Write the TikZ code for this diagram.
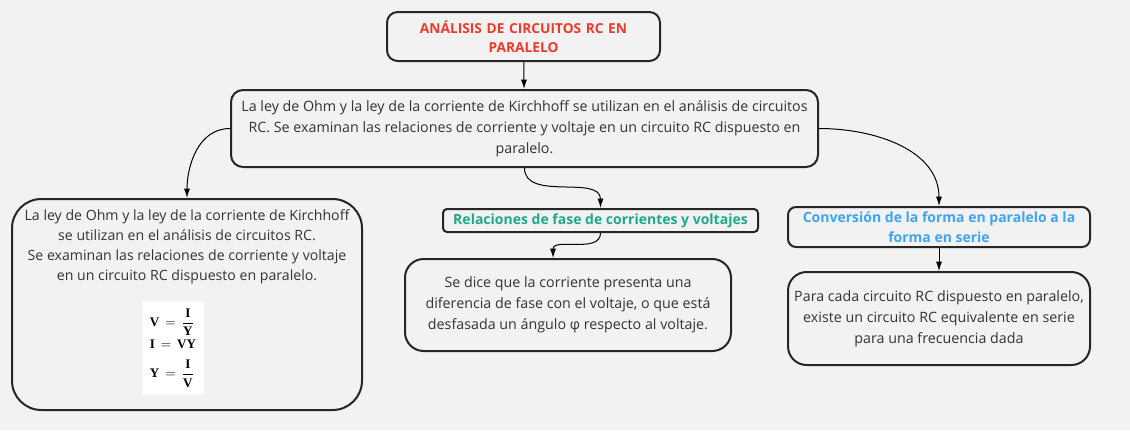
\documentclass[tikz,border=0pt]{standalone}
\usepackage{amsmath}
\usepackage{fontspec}
\setmainfont{Open Sans}
\setmathrm{Liberation Serif}
\usetikzlibrary{arrows.meta}
\definecolor{bgcol}{HTML}{F2F2F2}
\definecolor{txtcol}{HTML}{333333}
\definecolor{redcol}{HTML}{F0392B}
\definecolor{greencol}{HTML}{1EAA88}
\definecolor{bluecol}{HTML}{3FA4F4}
\begin{document}
\begin{tikzpicture}[x=0.75pt,y=-0.75pt,
  box/.style={draw=black!85,line width=1.5pt,fill=bgcol,align=center,
    text=txtcol,font=\fontsize{10.7}{15.75}\selectfont,inner sep=0pt},
  head/.style={box,font=\bfseries\fontsize{10.5}{15}\selectfont},
  link/.style={-{Latex[length=7pt,width=4.5pt]},line width=0.75pt,black}]
\fill[bgcol] (0,0) rectangle (1130,430);
\useasboundingbox (0,0) rectangle (1130,430);
% title
\node[head,text=redcol,rounded corners=8pt,minimum width=273*0.75pt,minimum height=49*0.75pt,text width=200pt,
  font=\bfseries\fontsize{10.3}{14}\selectfont]
  (title) at (523.5,36.5) {ANÁLISIS DE CIRCUITOS RC EN\\PARALELO};
% main statement
\node[box,rounded corners=9pt,minimum width=587*0.75pt,minimum height=77*0.75pt]
  (main) at (524.5,128.5) {La ley de Ohm y la ley de la corriente de Kirchhoff se utilizan en el análisis de circuitos\\
  RC. Se examinan las relaciones de corriente y voltaje en un circuito RC dispuesto en\\paralelo.};
% left branch
\node[box,rounded corners=22pt,minimum width=350*0.75pt,minimum height=211*0.75pt]
  (left) at (187,304.5) {};
\node[align=center,text=txtcol,font=\fontsize{10.6}{15}\selectfont,inner sep=0pt]
  (lefttext) at (187,247) {La ley de Ohm y la ley de la corriente de Kirchhoff\\
  se utilizan en el análisis de circuitos RC.\\
  Se examinan las relaciones de corriente y voltaje\\
  en un circuito RC dispuesto en paralelo.};
\node[fill=white,minimum width=62*0.75pt,minimum height=94*0.75pt,inner sep=0pt,font=\fontsize{9.8}{12}\selectfont]
  (formula) at (173,348) {$\begin{array}{@{}l@{}}
    \mathbf{V}\,=\,\dfrac{\mathbf{I}}{\mathbf{Y}}\\[5pt]
    \mathbf{I}\,=\,\mathbf{VY}\\[5pt]
    \mathbf{Y}\,=\,\dfrac{\mathbf{I}}{\mathbf{V}}
  \end{array}$};
% middle branch
\node[head,text=greencol,rounded corners=3pt,minimum width=315*0.75pt,minimum height=23*0.75pt]
  (phase) at (600.5,220.5) {Relaciones de fase de corrientes y voltajes};
\node[box,rounded corners=14pt,minimum width=326*0.75pt,minimum height=92*0.75pt]
  (shift) at (568,305) {Se dice que la corriente presenta una\\
  diferencia de fase con el voltaje, o que está\\desfasada un ángulo φ respecto al voltaje.};
% right branch
\node[head,text=bluecol,rounded corners=6pt,minimum width=302*0.75pt,minimum height=40*0.75pt]
  (conv) at (939,227) {Conversión de la forma en paralelo a la\\forma en serie};
\node[box,rounded corners=14pt,minimum width=302*0.75pt,minimum height=93*0.75pt]
  (equiv) at (939,318.5) {Para cada circuito RC dispuesto en paralelo,\\
  existe un circuito RC equivalente en serie\\para una frecuencia dada};
% connectors
\draw[link] (title) -- (main);
\draw[link] (main.west) to[out=180,in=90] (left.north);
\draw[link] (main.south) to[out=-90,in=90] (phase.north);
\draw[link] (phase.south) to[out=-90,in=90] ([xshift=-15*0.75pt]shift.north);
\draw[link] (main.east) to[out=0,in=90] (conv.north);
\draw[link] (conv) -- (equiv);
\end{tikzpicture}
\end{document}
